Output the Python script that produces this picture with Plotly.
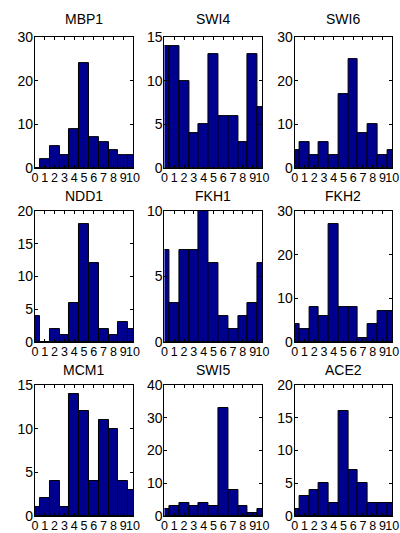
import plotly.graph_objects as go

names = ["MBP1", "SWI4", "SWI6", "NDD1", "FKH1", "FKH2", "MCM1", "SWI5", "ACE2"]
bins = list(range(11))
x_tick_labels = [str(b) for b in bins]
counts = {
    "MBP1": [0, 2, 5, 3, 9, 24, 7, 6, 4, 3, 3],
    "SWI4": [14, 14, 10, 4, 5, 13, 6, 6, 3, 13, 7],
    "SWI6": [4, 6, 3, 6, 3, 17, 25, 8, 10, 3, 4],
    "NDD1": [4, 0, 2, 1, 6, 18, 12, 2, 1, 3, 2],
    "FKH1": [7, 3, 7, 7, 10, 6, 2, 1, 2, 3, 6],
    "FKH2": [4, 3, 8, 6, 27, 8, 8, 1, 4, 7, 7],
    "MCM1": [1, 2, 4, 1, 14, 12, 4, 11, 10, 4, 3],
    "SWI5": [2, 3, 4, 3, 4, 3, 33, 8, 3, 1, 2],
    "ACE2": [1, 3, 4, 5, 2, 16, 7, 5, 2, 2, 2],
}
y_max = {"MBP1": 30, "SWI4": 15, "SWI6": 30, "NDD1": 20, "FKH1": 10,
         "FKH2": 30, "MCM1": 15, "SWI5": 40, "ACE2": 20}
y_step = {"MBP1": 10, "SWI4": 5, "SWI6": 10, "NDD1": 5, "FKH1": 5,
          "FKH2": 10, "MCM1": 5, "SWI5": 10, "ACE2": 5}

W, H = 400, 533
# target on-screen pixel boxes; the rendered page is slightly scaled, so map back
SX, OX, SY, OY = 0.979, 2.2, 0.974, 4.0
col_px = [(34.3, 132.7), (164.3, 262.7), (295.0, 393.0)]
row_px = [(33.3, 165.0), (208.3, 340.0), (383.3, 515.0)]
title_gap = [18, 15, 15]
FONT = "Liberation Sans, Arial, Helvetica, sans-serif"


def fx(p):
    return min(1.0, max(0.0, (p - OX) / SX / W))


def fy(p):
    return min(1.0, max(0.0, 1 - (p - OY) / SY / H))


fig = go.Figure()
layout = dict(
    width=W, height=H, margin=dict(l=0, r=0, t=0, b=0),
    paper_bgcolor="white", plot_bgcolor="white", showlegend=False,
    font=dict(family=FONT, color="black", size=13),
    bargap=0,
)
annotations = []
for i, name in enumerate(names):
    r, c = divmod(i, 3)
    k = "" if i == 0 else str(i + 1)
    x0, x1 = col_px[c]
    yt, yb = row_px[r]
    fig.add_trace(go.Bar(
        x=bins, y=counts[name], width=1,
        marker=dict(color="#00008F", line=dict(color="black", width=1)),
        xaxis="x" + k, yaxis="y" + k, hoverinfo="x+y",
    ))
    layout["xaxis" + k] = dict(
        domain=[fx(x0), fx(x1)], range=[0, 10], anchor="y" + k,
        tickmode="array", tickvals=bins, ticktext=x_tick_labels,
        tickangle=0, ticklabeloverflow="allow", ticklabelstandoff=-2,
        ticks="inside", ticklen=3, tickcolor="black", tickwidth=1,
        showline=True, linecolor="black", linewidth=1, mirror="allticks",
        showgrid=False, zeroline=False, tickfont=dict(size=12.5),
        fixedrange=True,
    )
    layout["yaxis" + k] = dict(
        domain=[fy(yb), fy(yt)], range=[0, y_max[name]], anchor="x" + k,
        tickmode="linear", tick0=0, dtick=y_step[name],
        ticks="inside", ticklen=3, tickcolor="black", tickwidth=1,
        ticklabelstandoff=-2,
        showline=True, linecolor="black", linewidth=1, mirror="allticks",
        showgrid=False, zeroline=False, tickfont=dict(size=14),
        fixedrange=True,
    )
    annotations.append(dict(
        text=name, x=fx((x0 + x1) / 2), y=fy(yt - title_gap[r]),
        xref="paper", yref="paper", xanchor="center", yanchor="middle",
        showarrow=False, font=dict(size=14, family=FONT),
    ))
layout["annotations"] = annotations
fig.update_layout(**layout)
fig.write_html(
    "out.html",
    config={"displayModeBar": False},
    post_script=(
        "document.documentElement.style.margin='0';"
        "document.documentElement.style.overflow='hidden';"
        "document.body.style.margin='0';document.body.style.overflow='hidden';"
    ),
)
